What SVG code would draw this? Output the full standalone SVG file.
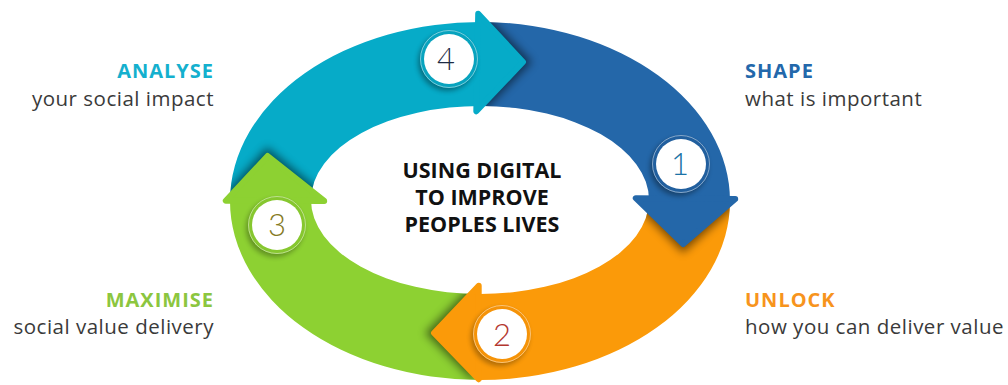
<svg xmlns="http://www.w3.org/2000/svg" width="1008" height="385" viewBox="0 0 1008 385">
<defs>
<style>
.title{font-family:"Open Sans","Liberation Sans",sans-serif;font-weight:700;font-size:20px;letter-spacing:1px}
.sub{font-family:"Open Sans","Liberation Sans",sans-serif;font-weight:400;font-size:20.5px;fill:#3a3a3a;letter-spacing:0.5px}
.center{font-family:"Open Sans","Liberation Sans",sans-serif;font-weight:700;font-size:21.5px;fill:#111111;text-anchor:middle}
.num{font-family:"Lato","Open Sans",sans-serif;font-weight:300;font-size:31px;text-anchor:middle}
.head{stroke-width:6;stroke-linejoin:round}
.shadow{fill:#000;opacity:0.5}
.disc{fill:#ffffff}
.rim{fill:none;stroke:#ffffff;stroke-opacity:0.45;stroke-width:1}
</style>
<filter id="blur" x="-50%" y="-50%" width="200%" height="200%"><feGaussianBlur stdDeviation="4"/></filter>
<filter id="blurS" x="-50%" y="-50%" width="200%" height="200%"><feGaussianBlur stdDeviation="2.5"/></filter>
<clipPath id="clipCyan"><path d="M230,201 A250,179 0 0 1 484.4,22 L482.9,106 A169,94 0 0 0 311,200 Z"/></clipPath>
<clipPath id="clipBlue"><path d="M484.4,22 A250,179 0 0 1 730,201 L649,200 A169,94 0 0 0 482.9,106 Z"/></clipPath>
<clipPath id="clipOrange"><path d="M730,201 A250,179 0 0 1 480,380 L480,294 A169,94 0 0 0 649,200 Z"/></clipPath>
<clipPath id="clipGreen"><path d="M480,380 A250,179 0 0 1 230,201 L311,200 A169,94 0 0 0 480,294 Z"/></clipPath>
</defs>
<rect width="1008" height="385" fill="#ffffff"/>

<g id="connectors">
  <path id="body-4" fill="#06abc8" d="M230,201 A250,179 0 0 1 484.4,22 L482.9,106 A169,94 0 0 0 311,200 Z"/>
  <path id="body-1" fill="#2467a9" d="M484.4,22 A250,179 0 0 1 730,201 L649,200 A169,94 0 0 0 482.9,106 Z"/>
  <path id="body-2" fill="#fb9a09" d="M730,201 A250,179 0 0 1 480,380 L480,294 A169,94 0 0 0 649,200 Z"/>
  <path id="body-3" fill="#8dd132" d="M480,380 A250,179 0 0 1 230,201 L311,200 A169,94 0 0 0 480,294 Z"/>
  <g clip-path="url(#clipBlue)"><polygon class="shadow" filter="url(#blur)" transform="translate(5,0)" points="477,10 527,62 475,115"/></g>
  <g clip-path="url(#clipOrange)"><polygon class="shadow" filter="url(#blur)" transform="translate(0,5)" points="632,197 739,198 683,248"/></g>
  <g clip-path="url(#clipGreen)"><polygon class="shadow" filter="url(#blur)" transform="translate(-5,0)" points="480,282 430,333 480,383"/></g>
  <g clip-path="url(#clipCyan)"><polygon class="shadow" filter="url(#blur)" transform="translate(0,-5)" points="222,202 328,202 267,152"/></g>
  <polygon class="head" fill="#06abc8" stroke="#06abc8" points="478.2,13.8 523,62 476.3,111.2"/>
  <polygon class="head" fill="#2467a9" stroke="#2467a9" points="635.8,198.2 735.2,199.1 683.2,244"/>
  <polygon class="head" fill="#fb9a09" stroke="#fb9a09" points="478.7,285.8 434,333 478.7,379.2"/>
  <polygon class="head" fill="#8dd132" stroke="#8dd132" points="225.8,200.7 324.2,200.9 267.6,156"/>
</g>

<g id="step-4">
  <circle cx="447" cy="62" r="29" fill="#000" opacity="0.35" filter="url(#blurS)"/>
  <circle cx="449" cy="59" r="29" fill="#08a3be"/>
  <circle class="rim" cx="449" cy="59" r="28.5"/>
  <circle class="disc" cx="449" cy="59" r="25"/>
  <text class="num" x="446" y="70" fill="#1d2b45">4</text>
  <text class="title" x="214" y="78" text-anchor="end" fill="#14b0ce">ANALYSE</text>
  <text class="sub" x="214" y="106" text-anchor="end">your social impact</text>
</g>

<g id="step-1">
  <circle cx="679" cy="167" r="29" fill="#000" opacity="0.35" filter="url(#blurS)"/>
  <circle cx="681" cy="164" r="29" fill="#215f9e"/>
  <circle class="rim" cx="681" cy="164" r="28.5"/>
  <circle class="disc" cx="681" cy="164" r="25"/>
  <text class="num" x="680" y="175" fill="#1a72a6">1</text>
  <text class="title" x="745" y="78" fill="#2368ab">SHAPE</text>
  <text class="sub" x="745" y="106">what is important</text>
</g>

<g id="step-2">
  <circle cx="500" cy="337" r="29" fill="#000" opacity="0.3" filter="url(#blurS)"/>
  <circle cx="502" cy="334" r="29" fill="#f59308"/>
  <circle class="rim" cx="502" cy="334" r="28.5"/>
  <circle class="disc" cx="502" cy="334" r="25"/>
  <text class="num" x="502" y="346" fill="#b3372f">2</text>
  <text class="title" x="745" y="307" fill="#f7941d">UNLOCK</text>
  <text class="sub" x="745" y="334">how you can deliver value</text>
</g>

<g id="step-3">
  <circle cx="275" cy="228" r="29" fill="#000" opacity="0.3" filter="url(#blurS)"/>
  <circle cx="277" cy="225" r="29" fill="#86c72f"/>
  <circle class="rim" cx="277" cy="225" r="28.5"/>
  <circle class="disc" cx="277" cy="225" r="25"/>
  <text class="num" x="277" y="236" fill="#857a25">3</text>
  <text class="title" x="214" y="307" text-anchor="end" fill="#8cc63f">MAXIMISE</text>
  <text class="sub" x="214" y="334" text-anchor="end">social value delivery</text>
</g>

<g id="center">
  <text class="center" x="482" y="178">USING DIGITAL</text>
  <text class="center" x="482" y="205">TO IMPROVE</text>
  <text class="center" x="482" y="232">PEOPLES LIVES</text>
</g>
</svg>
